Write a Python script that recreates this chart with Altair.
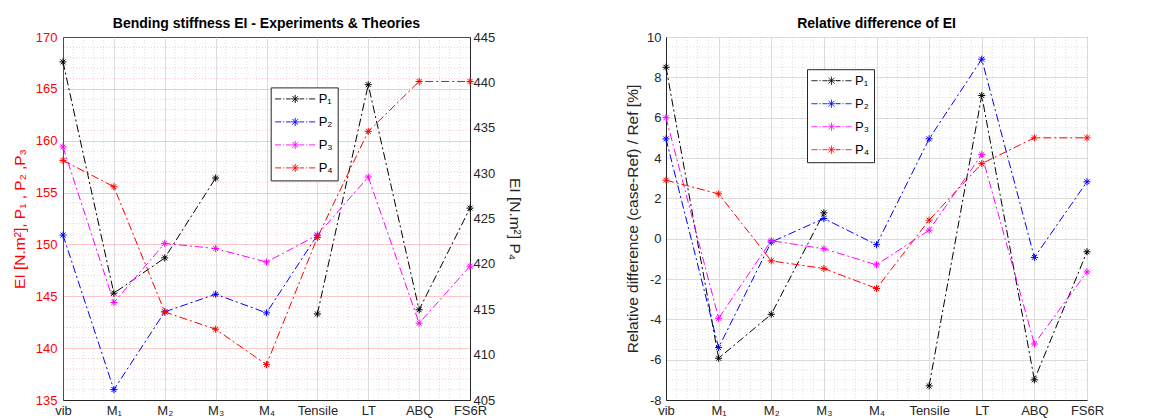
import json
import pandas as pd
import altair as alt

FONT = "Liberation Sans"

categories = ["vib", "M₁", "M₂", "M₃", "M₄", "Tensile", "LT", "ABQ", "FS6R"]
series = ["P₁", "P₂", "P₃", "P₄"]
colors = ["#000000", "#0000ff", "#ff00ff", "#ff0000"]

# Left panel: bending stiffness EI (P1..P3 on left axis, P4 on right axis)
ei_p1 = [167.6, 145.3, 148.7, 156.4, None, 143.3, 165.4, 143.7, 153.5]
ei_p2 = [150.9, 136.0, 143.5, 145.2, 143.4, 150.9, None, None, None]
ei_p3 = [159.4, 144.4, 150.1, 149.6, 148.3, 150.9, 156.5, 142.4, 147.9]
ei_p4 = [431.4, 428.5, 414.7, 412.8, 408.9, 422.9, 434.6, 440.1, 440.1]

# Right panel: relative difference [%]
rel_p1 = [8.5, -5.93, -3.75, 1.28, None, -7.3, 7.1, -7.0, -0.65]
rel_p2 = [4.95, -5.4, -0.17, 1.0, -0.3, 4.95, 8.9, -0.93, 2.82]
rel_p3 = [6.0, -3.95, -0.1, -0.5, -1.3, 0.42, 4.17, -5.22, -1.65]
rel_p4 = [2.9, 2.22, -1.1, -1.48, -2.47, 0.92, 3.72, 5.0, 5.0]

left_ticks = [135, 140, 145, 150, 155, 160, 165, 170]
right_ticks = [405, 410, 415, 420, 425, 430, 435, 440, 445]
rel_ticks = [-8, -6, -4, -2, 0, 2, 4, 6, 8, 10]


def long_df(names, arrays):
    rows = []
    for name, vals in zip(names, arrays):
        seg = 0
        for i, v in enumerate(vals):
            if v is None:
                seg += 1
                continue
            rows.append({"idx": i, "series": name, "value": v, "seg": f"{name}-{seg}"})
    return pd.DataFrame(rows)


STAR = "M-1,0H1M0,-1V1M-0.7,-0.7L0.7,0.7M-0.7,0.7L0.7,-0.7"
LEG = ("M-4,0H-2.8M-2.4,0H-2.2M-1.8,0H-0.9"
       "M-0.8,0H0.8M0,-0.8V0.8M-0.56,-0.56L0.56,0.56M-0.56,0.56L0.56,-0.56"
       "M0.9,0H1.8M2.2,0H2.4M2.8,0H4")

W1, W2, H = 407, 421, 363

color_scale = alt.Scale(domain=series, range=colors)


def legend(lx, ly):
    return alt.Legend(orient="none", legendX=lx, legendY=ly, title=None,
                      symbolType=LEG, symbolSize=100, symbolStrokeWidth=1,
                      symbolOffset=13, labelOffset=17, labelFontSize=13,
                      labelFont=FONT, labelColor="#000000", padding=5,
                      rowPadding=9, fillColor="white", strokeColor="#262626",
                      symbolFillColor="transparent", cornerRadius=0,
                      symbolDash=[1, 0])


x_scale = alt.Scale(domain=[0, len(categories) - 1], nice=False, zero=False)
x_axis = alt.Axis(values=list(range(len(categories))),
                  labelExpr=json.dumps(categories, ensure_ascii=False) + "[datum.value]",
                  grid=True, gridColor="#dcdcdc", gridOpacity=1, ticks=False,
                  domainColor="#262626", labelColor="#262626", labelFontSize=13,
                  labelFont=FONT, labelPadding=4, labelFlush=False,
                  labelOverlap=False, title=None)
X = alt.X("idx:Q", scale=x_scale, axis=x_axis)

minor_x = pd.DataFrame({"idx": [i / 5 for i in range(5 * (len(categories) - 1) + 1) if i % 5]})
minor_left = pd.DataFrame({"value": [v for v in range(left_ticks[0], left_ticks[-1] + 1) if v % 5]})
minor_rel = pd.DataFrame({"value": [v / 2 for v in range(2 * rel_ticks[0], 2 * rel_ticks[-1] + 1) if v % 4]})


def series_layers(df, Y, leg):
    line = alt.Chart(df).mark_line(strokeDash=[8, 3, 2, 3], strokeWidth=1).encode(
        x=X, y=Y, color=alt.Color("series:N", scale=color_scale, legend=leg), detail="seg:N")
    pts = alt.Chart(df).mark_point(shape=STAR, size=50, filled=False, strokeWidth=1, opacity=1).encode(
        x=X, y=Y, color=alt.Color("series:N", scale=color_scale, legend=leg))
    return [line, pts]


TITLE_FS = 15.5

# ---------- Left panel ----------
yl_scale = alt.Scale(domain=[left_ticks[0], left_ticks[-1]], nice=False, zero=False)
yl_axis = alt.Axis(orient="left", values=left_ticks, grid=True, gridColor="#ff0000",
                   gridOpacity=0.22, ticks=False, domainColor="#ff0000",
                   labelColor="#ff0000", titleColor="#ff0000", labelFontSize=13,
                   labelFont=FONT, titleFont=FONT, titleFontSize=TITLE_FS,
                   titleFontWeight="normal", labelPadding=6, titlePadding=8,
                   title="EI [N.m²], P₁ , P₂ ,P₃")
YL = alt.Y("value:Q", scale=yl_scale, axis=yl_axis)

yr_scale = alt.Scale(domain=[right_ticks[0], right_ticks[-1]], nice=False, zero=False)
yr_axis = alt.Axis(orient="right", values=right_ticks, grid=False, ticks=False,
                   domainColor="#262626", labelColor="#262626", titleColor="#262626",
                   labelFontSize=13, labelFont=FONT, titleFont=FONT, titleFontSize=TITLE_FS,
                   titleFontWeight="normal", labelPadding=3, titlePadding=12,
                   title="EI [N.m²] P₄")
YR = alt.Y("value:Q", scale=yr_scale, axis=yr_axis)

leg_left = legend(207.7, 50.4)
df_left = long_df(series[:3], [ei_p1, ei_p2, ei_p3])
df_p4 = long_df(series[3:], [ei_p4])

vrules_l = alt.Chart(minor_x).mark_rule(color="#262626", opacity=0.15, strokeDash=[1, 2]).encode(x=X)
hrules_l = alt.Chart(minor_left).mark_rule(color="#ff0000", opacity=0.22, strokeDash=[1, 2]).encode(y=YL)

left_main = alt.layer(vrules_l, hrules_l, *series_layers(df_left, YL, leg_left))
left_p4 = alt.layer(*series_layers(df_p4, YR, leg_left))

left = alt.layer(left_main, left_p4).resolve_scale(y="independent").properties(
    width=W1, height=H,
    title=alt.TitleParams("Bending stiffness EI - Experiments & Theories", fontSize=14,
                          fontWeight="bold", font=FONT, color="#000000", offset=0),
    view=alt.ViewBackground(stroke="#ff0000"),
)

# ---------- Right panel ----------
yrel_scale = alt.Scale(domain=[rel_ticks[0], rel_ticks[-1]], nice=False, zero=False)
yrel_axis = alt.Axis(values=rel_ticks, grid=True, gridColor="#dcdcdc", gridOpacity=1,
                     ticks=False, domainColor="#262626", labelColor="#262626",
                     titleColor="#262626", labelFontSize=13, labelFont=FONT,
                     titleFont=FONT, titleFontSize=TITLE_FS, titleFontWeight="normal",
                     labelPadding=5, titlePadding=6, labelExpr="'' + datum.value",
                     title="Relative difference (case-Ref) / Ref [%]")
YREL = alt.Y("value:Q", scale=yrel_scale, axis=yrel_axis)

df_rel = long_df(series, [rel_p1, rel_p2, rel_p3, rel_p4])
leg_right = legend(141, 32.2)

vrules_r = alt.Chart(minor_x).mark_rule(color="#262626", opacity=0.15, strokeDash=[1, 2]).encode(x=X)
hrules_r = alt.Chart(minor_rel).mark_rule(color="#262626", opacity=0.15, strokeDash=[1, 2]).encode(y=YREL)

right = alt.layer(vrules_r, hrules_r, *series_layers(df_rel, YREL, leg_right)).properties(
    width=W2, height=H,
    title=alt.TitleParams("Relative difference of EI", fontSize=14, fontWeight="bold",
                          font=FONT, color="#000000", offset=0),
    view=alt.ViewBackground(stroke="#262626"),
)

chart = alt.hconcat(left, right, spacing=102).resolve_scale(color="independent").properties(
    padding={"left": 11, "top": 16, "right": 5, "bottom": 5}
).configure(background="white")

chart.save("out.html", embed_options={"renderer": "svg", "actions": False})
